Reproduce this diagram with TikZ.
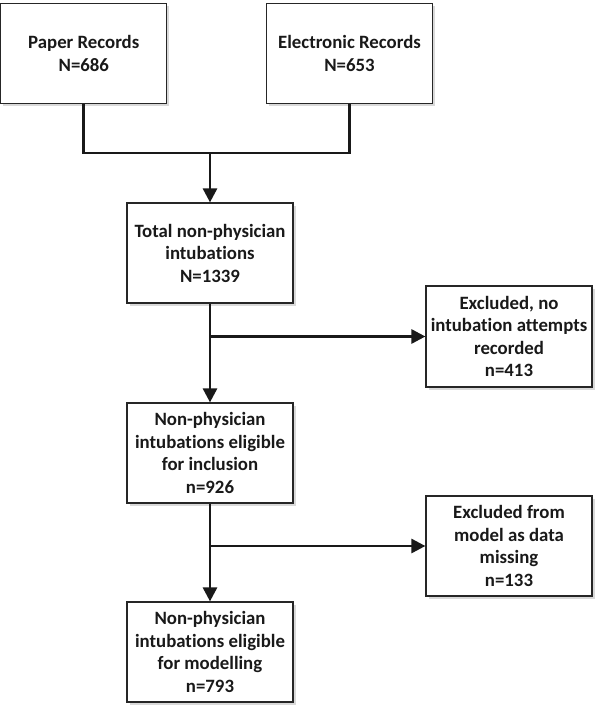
\documentclass[tikz,border=0pt]{standalone}
\usepackage{fontspec}
\setmainfont{Carlito}[Ligatures=NoCommon]
\usetikzlibrary{arrows.meta,shadows}
\begin{document}
\begin{tikzpicture}[x=1pt,y=-1pt,
  box/.style={draw=black!85,line width=1.2pt,fill=white,minimum width=166pt,minimum height=100pt,
    align=center,inner sep=2pt,font=\bfseries\fontsize{18.8}{22.5}\selectfont,text=black!90,
    drop shadow={shadow xshift=2.5pt,shadow yshift=-2.5pt,fill=black!25,opacity=0.6}},
  conn/.style={line width=2.8pt,draw=black!90},
  arr/.style={conn,-{Triangle[width=14pt,length=14pt]}}]
\useasboundingbox (0,0) rectangle (597,706);
\node[box] (paper) at (83.8,53.5) {Paper Records\\N=686};
\node[box] (elec) at (349.5,53.5) {Electronic Records\\N=653};
\node[box] (total) at (210,253) {Total non-physician\\intubations\\N=1339};
\node[box,minimum height=101pt] (ex1) at (509,336.5) {Excluded, no\\intubation attempts\\recorded\\n=413};
\node[box] (elig) at (210,453) {Non-physician\\intubations eligible\\for inclusion\\n=926};
\node[box] (ex2) at (509,546) {Excluded from\\model as data\\missing\\n=133};
\node[box] (model) at (210,652) {Non-physician\\intubations eligible\\for modelling\\n=793};
\coordinate (j) at (210,153);
\draw[conn] (paper.south) |- (j) -| (elec.south);
\draw[arr] (j) -- (total.north);
\draw[arr] (total.south) -- (elig.north);
\draw[arr] (total.south |- ex1.west) -- (ex1.west);
\draw[arr] (elig.south) -- (model.north);
\draw[arr] (elig.south |- ex2.west) -- (ex2.west);
\end{tikzpicture}
\end{document}
